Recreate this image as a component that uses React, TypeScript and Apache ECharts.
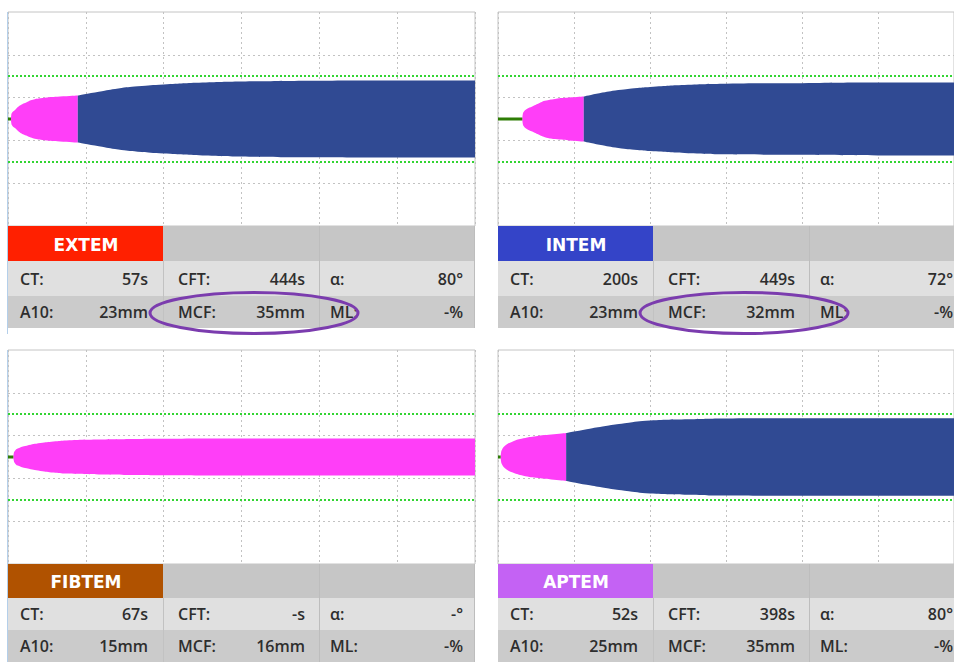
import React, { useEffect, useRef } from 'react';
import * as echarts from 'echarts';

// ---- table values ----
const tests = ['EXTEM', 'INTEM', 'FIBTEM', 'APTEM'];
const ctValues: (number | null)[] = [57, 200, 67, 52];
const cftValues: (number | null)[] = [444, 449, null, 398];
const alphaValues: (number | null)[] = [80, 72, null, 80];
const a10Values: (number | null)[] = [23, 23, 15, 25];
const mcfValues: (number | null)[] = [35, 32, 16, 35];
const mlValues: (number | null)[] = [null, null, null, null];
const circledTests = ['EXTEM', 'INTEM'];

// ---- amplitude traces: [time (s), amplitude (mm)] ----
const extemPink = [[23, 0], [25, 3.5], [32, 6], [54, 8.5], [92, 12.6], [140, 15.5], [192, 18], [280, 19.8], [400, 21], [538, 22]];
const extemBlue = [[538, 22], [700, 25.5], [850, 28.5], [1000, 30.5], [1200, 32.2], [1500, 34], [1800, 35], [2400, 35.8], [3000, 36], [3600, 36]];
const intemPink = [[192, 0], [195, 4], [205, 7], [230, 9.5], [270, 11.7], [320, 14.5], [370, 17], [450, 18.8], [560, 20], [677, 21]];
const intemBlue = [[677, 21], [800, 24], [950, 27], [1100, 29], [1200, 30], [1500, 32], [1800, 33], [2400, 33.5], [3000, 34], [3600, 34]];
const fibtemPink = [[41, 0], [44, 3], [52, 5.5], [75, 8], [144, 10.6], [250, 13], [350, 14.5], [451, 15.5], [700, 16.3], [1000, 16.8], [1200, 17], [1800, 17.2], [3600, 17.2]];
const fibtemBlue: number[][] = [];
const aptemPink = [[21, 0], [24, 4], [32, 7], [55, 10.5], [117, 14.6], [200, 17.5], [300, 19.5], [420, 21], [538, 22.4]];
const aptemBlue = [[538, 22.4], [700, 26], [850, 29], [1000, 31.5], [1200, 34], [1500, 35.2], [1800, 36], [2400, 36.2], [3600, 36.2]];

const pinkTraces = [extemPink, intemPink, fibtemPink, aptemPink];
const blueTraces = [extemBlue, intemBlue, fibtemBlue, aptemBlue];

// axis scales
const timeMax = 3600;
const timeStep = 600;
const ampMax = 50;
const greyLinesMm = [-30, -10, 10, 30];
const refLinesMm = [-20, 20];

// ---- styles / layout ----
const testColors = ['#ff2000', '#3444c8', '#b05200', '#c462f4'];
const PINK = '#ff3ef8';
const BLUE = '#304a93';
const GREEN = '#2e7d05';
const panelPos = [
  { x: 8, y: 12, rows: [35, 35, 32] },
  { x: 498, y: 12, rows: [35, 35, 32] },
  { x: 8, y: 350, rows: [34, 32, 32] },
  { x: 498, y: 350, rows: [34, 32, 32] },
];
const PW = 467;
const PH = 214;

const fmt = (v: number | null, unit: string) => (v == null ? '-' : String(v)) + unit;

export default function App() {
  const ref = useRef<HTMLDivElement>(null);
  useEffect(() => {
    if (!ref.current) return;
    const chart = echarts.init(ref.current, undefined, { renderer: 'svg' });

    const grid: any[] = [];
    const xAxis: any[] = [];
    const yAxis: any[] = [];
    const series: any[] = [];
    const graphic: any[] = [];

    panelPos.forEach((p, i) => {
      grid.push({ left: p.x, top: p.y, width: PW, height: PH, show: true, borderColor: '#c4c4c4', borderWidth: 1, backgroundColor: '#ffffff' });
      xAxis.push({
        type: 'value', gridIndex: i, min: 0, max: timeMax, interval: timeStep,
        axisLine: { show: false }, axisTick: { show: false }, axisLabel: { show: false },
        splitLine: { show: true, lineStyle: { color: '#c2c2c2', type: [2, 3], width: 1 } },
      });
      yAxis.push({
        type: 'value', gridIndex: i, min: -ampMax, max: ampMax,
        axisLine: { show: false }, axisTick: { show: false }, axisLabel: { show: false }, splitLine: { show: false },
      });
      // grid reference lines
      series.push({
        type: 'line', xAxisIndex: i, yAxisIndex: i, data: [[0, 0]], symbol: 'none', silent: true, z: 1,
        lineStyle: { opacity: 0 },
        markLine: {
          silent: true, symbol: 'none', label: { show: false }, animation: false, z: 1,
          data: [
            ...greyLinesMm.map((v) => ({ yAxis: v, lineStyle: { color: '#c2c2c2', type: [2, 3], width: 1 } })),
            ...refLinesMm.map((v) => ({ yAxis: v, lineStyle: { color: '#33d433', type: [2, 2], width: 2 } })),
          ],
        },
      });
      const band = (trace: number[][], color: string, z: number) => {
        if (!trace.length) return;
        [1, -1].forEach((sgn) => {
          series.push({
            type: 'line', xAxisIndex: i, yAxisIndex: i, z,
            data: trace.map(([t, a]) => [t, (sgn * a) / 2]),
            symbol: 'none', smooth: 0.5, silent: true,
            lineStyle: { width: 0, color },
            areaStyle: { color, opacity: 1, origin: 0 },
          });
        });
      };
      band(pinkTraces[i], PINK, 3);
      band(blueTraces[i], BLUE, 4);
      // CT baseline
      series.push({
        type: 'line', xAxisIndex: i, yAxisIndex: i, z: 5, symbol: 'none', silent: true,
        data: [[0, 0], [pinkTraces[i][0][0], 0]],
        lineStyle: { color: GREEN, width: 3 },
      });

      // ---- table ----
      const L = p.x;
      const yBar = p.y + PH;
      const [hBar, h1, h2] = p.rows;
      const y1 = yBar + hBar;
      const y2 = y1 + h1;
      const yEnd = y2 + h2;
      graphic.push({ type: 'rect', shape: { x: L, y: yBar, width: 155, height: hBar }, style: { fill: testColors[i] } });
      graphic.push({ type: 'rect', shape: { x: L + 155, y: yBar, width: PW - 155, height: hBar }, style: { fill: '#c6c6c6' } });
      graphic.push({ type: 'rect', shape: { x: L, y: y1, width: PW, height: h1 }, style: { fill: '#e0e0e0' } });
      graphic.push({ type: 'rect', shape: { x: L, y: y2, width: PW, height: h2 }, style: { fill: '#cbcbcb' } });
      graphic.push({ type: 'line', shape: { x1: L + 155.5, y1: y1, x2: L + 155.5, y2: yEnd }, style: { stroke: '#c2c2c2', lineWidth: 1 } });
      graphic.push({ type: 'line', shape: { x1: L + 311.5, y1: yBar, x2: L + 311.5, y2: yEnd }, style: { stroke: '#bdbdbd', lineWidth: 1 } });
      graphic.push({ type: 'line', shape: { x1: L + PW - 0.5, y1: yBar, x2: L + PW - 0.5, y2: yEnd }, style: { stroke: '#bdbdbd', lineWidth: 1 } });
      if (L < 100) {
        graphic.push({ type: 'line', z: 100, shape: { x1: L - 0.5, y1: p.y, x2: L - 0.5, y2: yEnd + 6 }, style: { stroke: '#b4cfea', lineWidth: 1 } });
      }
      graphic.push({
        type: 'text', x: L + 78, y: yBar + hBar / 2 + 1,
        style: { text: tests[i], fill: '#ffffff', fontSize: 17, fontWeight: 'bold', fontFamily: 'DejaVu Sans', align: 'center', verticalAlign: 'middle', textAlign: 'center', textVerticalAlign: 'middle' },
      });
      const rowsTxt = [
        { y: y1 + h1 / 2, labels: ['CT:', 'CFT:', 'α:'], values: [fmt(ctValues[i], 's'), fmt(cftValues[i], 's'), fmt(alphaValues[i], '°')] },
        { y: y2 + h2 / 2, labels: ['A10:', 'MCF:', 'ML:'], values: [fmt(a10Values[i], 'mm'), fmt(mcfValues[i], 'mm'), fmt(mlValues[i], '%')] },
      ];
      const labelX = [12, 170, 322];
      const valueX = [140, 297, 455];
      const txtStyle = { fill: '#2e2e2e', fontSize: 16, fontWeight: 600, fontFamily: 'Open Sans', verticalAlign: 'middle', textVerticalAlign: 'middle' };
      rowsTxt.forEach((r) => {
        r.labels.forEach((lab, k) => {
          graphic.push({ type: 'text', x: L + labelX[k], y: r.y, style: { ...txtStyle, text: lab, align: 'left', textAlign: 'left' } });
          graphic.push({ type: 'text', x: L + valueX[k], y: r.y, style: { ...txtStyle, text: r.values[k], align: 'right', textAlign: 'right' } });
        });
      });
      if (circledTests.includes(tests[i])) {
        graphic.push({ type: 'ellipse', z: 110, shape: { cx: L + 246, cy: y2 + h2 / 2 + 1, rx: 104, ry: 20.5 }, style: { fill: 'none', stroke: '#7b3cae', lineWidth: 3 } });
      }
    });

    chart.setOption({
      animation: false,
      backgroundColor: '#ffffff',
      grid, xAxis, yAxis, series, graphic,
    });
    return () => chart.dispose();
  }, []);
  return <div ref={ref} style={{ position: 'absolute', left: 0, top: 0, width: 954, height: 662, overflow: 'hidden' }} />;
}
